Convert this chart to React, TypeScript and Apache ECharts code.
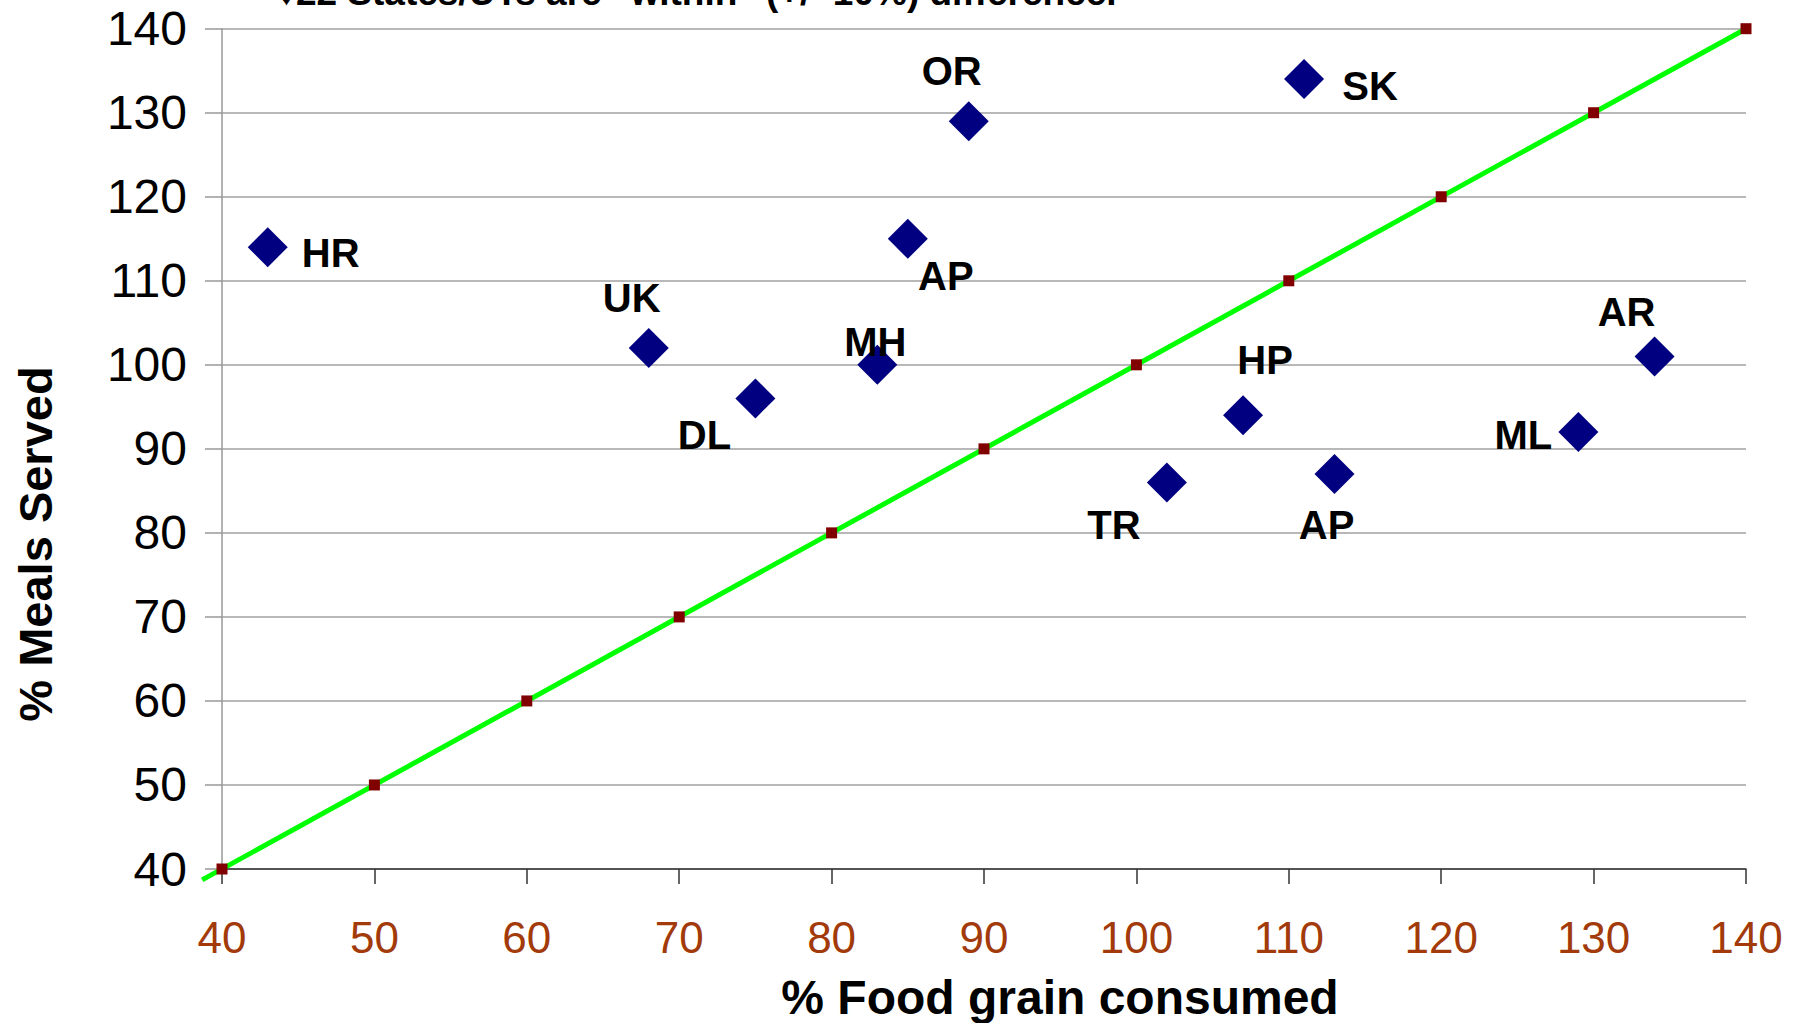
import React, { useEffect, useRef } from "react";
import * as echarts from "echarts";

const states = ["HR", "UK", "DL", "MH", "AP", "OR", "SK", "TR", "HP", "AP", "ML", "AR"];
const foodGrain = [43, 68, 75, 83, 85, 89, 111, 102, 107, 113, 129, 134];
const mealsServed = [114, 102, 96, 100, 115, 129, 134, 86, 94, 87, 92, 101];
const labelOffsets: [number, number][] = [
  [63, 6], [-17, -50], [-51, 37], [-2, -23], [38, 37], [-17, -50],
  [66, 7], [-53, 43], [22, -55], [-8, 51], [-55, 3], [-28, -44],
];
const refX = [40, 50, 60, 70, 80, 90, 100, 110, 120, 130, 140];
const refY = [40, 50, 60, 70, 80, 90, 100, 110, 120, 130, 140];
const trendX = [38.7, 140];
const trendY = [38.7, 140];
const xTitle = "% Food grain consumed";
const yTitle = "% Meals Served";
const note = "\u266622 States/UTs are \u201Cwithin\u201D (+/- 10%) difference.";

const FONT = "'Liberation Sans', Arial, sans-serif";

export default function App() {
  const ref = useRef<HTMLDivElement>(null);
  useEffect(() => {
    document.body.style.margin = "0";
    document.body.style.overflow = "hidden";
    const W = 1807;
    const H = 1023;
    const g = { left: 222, right: 61, top: 28.7, bottom: 154 };
    const axMin = 40;
    const axMax = 140;
    // second (hidden) grid sharing the same scale, extended so the trend line can reach below the axis minimum
    const pxPerX = (W - g.left - g.right) / (axMax - axMin);
    const pxPerY = (H - g.top - g.bottom) / (axMax - axMin);
    const extX = axMin - trendX[0];
    const extY = axMin - trendY[0];
    const chart = echarts.init(ref.current!, undefined, { renderer: "svg" });
    chart.setOption({
      animation: false,
      backgroundColor: "#ffffff",
      grid: [
        { ...g },
        {
          left: g.left - extX * pxPerX,
          right: g.right,
          top: g.top,
          bottom: g.bottom - extY * pxPerY,
        },
      ],
      xAxis: [
        {
          type: "value",
          gridIndex: 0,
          min: axMin,
          max: axMax,
          interval: 10,
          axisLine: { show: true, lineStyle: { color: "#333333", width: 1.5 } },
          axisTick: { show: true, length: 15, lineStyle: { color: "#333333", width: 1.5 } },
          axisLabel: { color: "#a23a0a", fontSize: 44, fontFamily: FONT, margin: 46 },
          splitLine: { show: false },
        },
        {
          type: "value",
          gridIndex: 1,
          min: trendX[0],
          max: axMax,
          show: false,
        },
      ],
      yAxis: [
        {
          type: "value",
          gridIndex: 0,
          min: axMin,
          max: axMax,
          interval: 10,
          axisLine: { show: true, lineStyle: { color: "#999999", width: 1.5 } },
          axisTick: { show: true, length: 17, lineStyle: { color: "#999999", width: 1.5 } },
          axisLabel: { color: "#000000", fontSize: 48, fontFamily: FONT, margin: 35 },
          splitLine: { show: true, lineStyle: { color: "#a0a0a0", width: 1.5 } },
        },
        {
          type: "value",
          gridIndex: 1,
          min: trendY[0],
          max: axMax,
          show: false,
        },
      ],
      graphic: [
        {
          type: "text",
          x: 277,
          y: -8,
          style: {
            text: note,
            font: `bold 37px ${FONT}`,
            fill: "#000000",
            align: "left",
            verticalAlign: "middle",
          },
        },
        {
          type: "text",
          x: 1060,
          y: 997,
          style: {
            text: xTitle,
            font: `bold 48px ${FONT}`,
            fill: "#000000",
            align: "center",
            verticalAlign: "middle",
          },
        },
        {
          type: "text",
          x: 35,
          y: 544,
          rotation: Math.PI / 2,
          style: {
            text: yTitle,
            font: `bold 47px ${FONT}`,
            fill: "#000000",
            align: "center",
            verticalAlign: "middle",
          },
        },
      ],
      series: [
        {
          type: "line",
          xAxisIndex: 1,
          yAxisIndex: 1,
          data: trendX.map((x, i) => [x, trendY[i]]),
          showSymbol: false,
          clip: false,
          lineStyle: { color: "#00ff00", width: 5 },
          z: 2,
        },
        {
          type: "scatter",
          data: refX.map((x, i) => [x, refY[i]]),
          symbol: "rect",
          symbolSize: 11,
          itemStyle: { color: "#800000", opacity: 1 },
          clip: false,
          z: 3,
        },
        {
          type: "scatter",
          data: states.map((s, i) => ({
            name: s,
            value: [foodGrain[i], mealsServed[i]],
            label: { offset: labelOffsets[i] },
          })),
          symbol: "diamond",
          symbolSize: 40,
          itemStyle: { color: "#000080", opacity: 1 },
          z: 4,
          label: {
            show: true,
            position: "inside",
            formatter: (p: any) => p.name,
            color: "#000000",
            opacity: 1,
            fontSize: 40,
            fontWeight: "bold",
            fontFamily: FONT,
          },
        },
      ],
    });
    return () => chart.dispose();
  }, []);
  return <div ref={ref} style={{ width: 1807, height: 1023 }} />;
}
